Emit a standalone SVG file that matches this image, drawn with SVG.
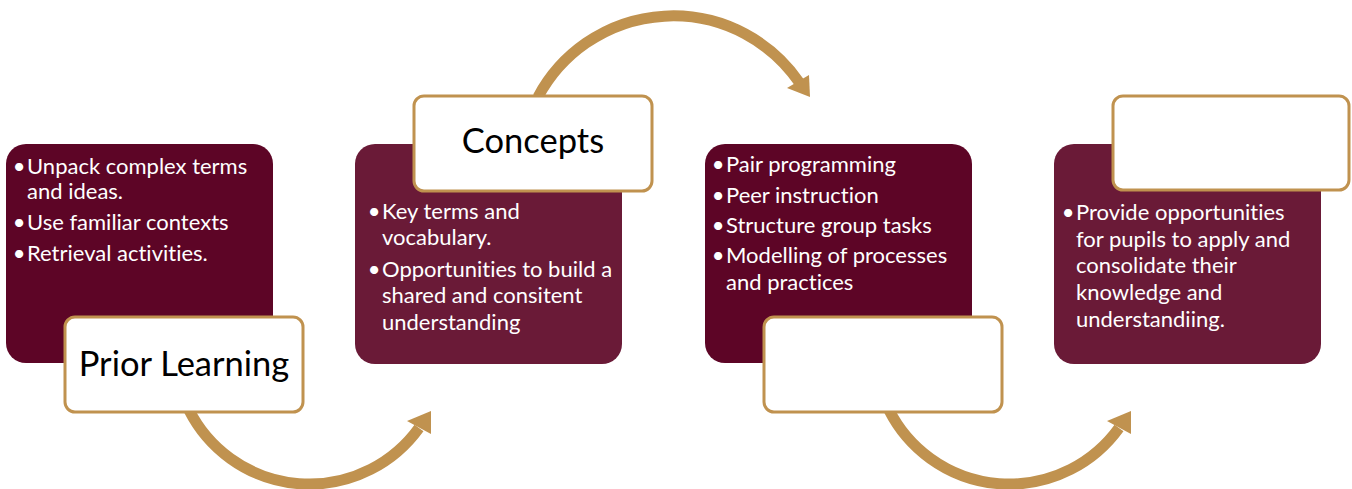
<svg xmlns="http://www.w3.org/2000/svg" width="1352" height="489" viewBox="0 0 1352 489">
<style>
.dark{fill:#5d0526}
.mid{fill:#6a1a37}
.label{fill:#ffffff;stroke:#c0924f;stroke-width:3}
.t{font-family:Lato,"Open Sans",sans-serif;font-size:22px;fill:#ffffff;font-variant-ligatures:none}
.b{font-family:Lato,"Open Sans",sans-serif;font-size:22px;fill:#ffffff;text-anchor:end}
.h{font-family:Lato,"Open Sans",sans-serif;font-size:34.5px;fill:#000000;text-anchor:middle;font-variant-ligatures:none}
.arc{fill:none;stroke:#c0924f;stroke-width:11}
.head{fill:#c0924f}
</style>
<rect width="1352" height="489" fill="#ffffff"/>
<g id="connectors">
  <path class="arc" d="M189 410 A135 135 0 0 0 419 428"/>
  <polygon class="head" points="431,411 407,421 431,434"/>
  <path class="arc" d="M538 97 A153 153 0 0 1 799 82"/>
  <polygon class="head" points="810,97 787,88 809,75"/>
  <path class="arc" d="M889 410 A135 135 0 0 0 1119 428"/>
  <polygon class="head" points="1131,411 1107,421 1131,434"/>
</g>
<g id="node-prior-learning">
  <rect class="dark" x="6" y="144" width="267" height="219" rx="20"/>
  <text class="b" x="25.5" y="174">•</text>
  <text class="t" x="27" y="174">Unpack complex terms</text>
  <text class="t" x="27" y="199">and ideas.</text>
  <text class="b" x="25.5" y="230">•</text>
  <text class="t" x="27" y="230">Use familiar contexts</text>
  <text class="b" x="25.5" y="261">•</text>
  <text class="t" x="27" y="261">Retrieval activities.</text>
  <rect class="label" x="65" y="317" width="238" height="95" rx="10"/>
  <text class="h" x="184" y="376">Prior Learning</text>
</g>
<g id="node-concepts">
  <rect class="mid" x="355" y="144" width="267" height="220" rx="20"/>
  <text class="b" x="380.5" y="219">•</text>
  <text class="t" x="382" y="219">Key terms and</text>
  <text class="t" x="382" y="245">vocabulary.</text>
  <text class="b" x="380.5" y="277">•</text>
  <text class="t" x="382" y="277">Opportunities to build a</text>
  <text class="t" x="382" y="303">shared and consitent</text>
  <text class="t" x="382" y="330">understanding</text>
  <rect class="label" x="414" y="96" width="238" height="95" rx="10"/>
  <text class="h" x="533" y="153">Concepts</text>
</g>
<g id="node-collaboration">
  <rect class="dark" x="705" y="144" width="267" height="219" rx="20"/>
  <text class="b" x="724.5" y="172">•</text>
  <text class="t" x="726" y="172">Pair programming</text>
  <text class="b" x="724.5" y="203">•</text>
  <text class="t" x="726" y="203">Peer instruction</text>
  <text class="b" x="724.5" y="233">•</text>
  <text class="t" x="726" y="233">Structure group tasks</text>
  <text class="b" x="724.5" y="263">•</text>
  <text class="t" x="726" y="263">Modelling of processes</text>
  <text class="t" x="726" y="290">and practices</text>
  <rect class="label" x="764" y="317" width="238" height="95" rx="10"/>
</g>
<g id="node-apply">
  <rect class="mid" x="1054" y="144" width="267" height="220" rx="20"/>
  <text class="b" x="1074.5" y="220">•</text>
  <text class="t" x="1076" y="220">Provide opportunities</text>
  <text class="t" x="1076" y="247">for pupils to apply and</text>
  <text class="t" x="1076" y="273">consolidate their</text>
  <text class="t" x="1076" y="300">knowledge and</text>
  <text class="t" x="1076" y="327">understandiing.</text>
  <rect class="label" x="1113" y="96" width="236" height="94" rx="10"/>
</g>
</svg>
